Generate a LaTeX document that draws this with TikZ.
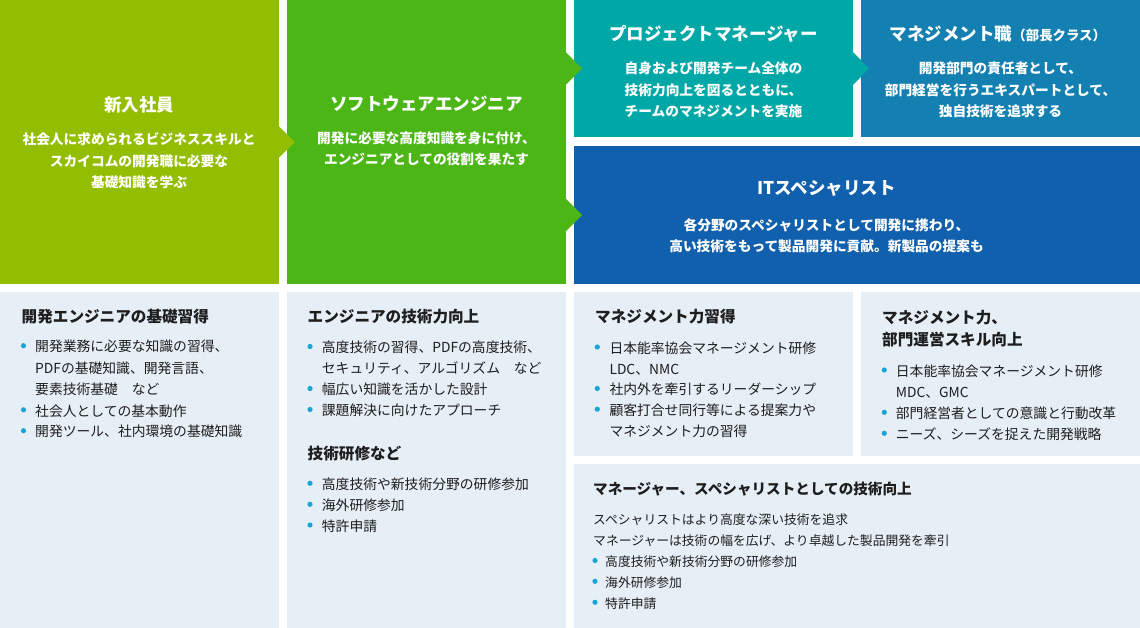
\documentclass[tikz,border=0pt]{standalone}
\usepackage{fontspec}
\setmainfont{Noto Sans CJK JP}
\usepackage{tikz}
\usetikzlibrary{calc}
\definecolor{newgreen}{HTML}{93BD00}
\definecolor{enggreen}{HTML}{4BB616}
\definecolor{pmteal}{HTML}{00A7A7}
\definecolor{mgblue}{HTML}{1380B1}
\definecolor{itblue}{HTML}{1160AD}
\definecolor{softbg}{HTML}{E6EEF6}
\definecolor{dotblue}{HTML}{1AA5D8}
\definecolor{inkgray}{HTML}{1E1E1E}

\begin{document}
\begin{tikzpicture}[x=1pt,y=-1pt,
  panel/.style={inner sep=0pt,outer sep=0pt,minimum width=279pt,minimum height=284pt},
  ptitle/.style={text=white,inner sep=0pt,font=\bfseries\fontsize{17.5}{20}\selectfont},
  pbody/.style={text=white,inner sep=0pt,align=center,font=\bfseries\fontsize{13.7}{21.3}\selectfont},
  ltitle/.style={text=inkgray,anchor=west,inner sep=0pt,text height=13.7pt,text depth=1.9pt,font=\bfseries\fontsize{15.6}{18}\selectfont},
  litem/.style={text=inkgray,anchor=west,inner sep=0pt,text height=12.1pt,text depth=1.7pt,font=\fontsize{13.8}{16}\selectfont},
  dot/.style={circle,fill=dotblue,inner sep=0pt,minimum size=5.2pt}]
\useasboundingbox[fill=white] (0,0) rectangle (1140,628);

% upper row: career stages
\node[panel,fill=newgreen] (newhire) at (139.5,142) {};
\node[panel,fill=enggreen] (engineer) at (426.5,142) {};
\node[panel,fill=pmteal,minimum height=137pt] (pm) at (713.5,68.5) {};
\node[panel,fill=mgblue,minimum height=137pt] (mgr) at (1000.5,68.5) {};
\node[panel,fill=itblue,minimum width=566pt,minimum height=138pt] (itsp) at (857,215) {};

% notches
\fill[newgreen] (newhire.east) ++(0,-15.5) -- ++(16,15.5) -- ++(-16,15.5) -- cycle;
\fill[enggreen] (engineer.east |- pm.west) ++(0,-16) -- ++(16,16) -- ++(-16,16) -- cycle;
\fill[enggreen] (engineer.east |- itsp.west) ++(0,-16) -- ++(16,16) -- ++(-16,16) -- cycle;
\fill[pmteal] (pm.east) ++(0,-16.5) -- ++(16,16.5) -- ++(-16,16.5) -- cycle;

\node[ptitle] (newhire-t) at (139,105) {新入社員};
\node[pbody] (newhire-b) at (139,161) {社会人に求められるビジネススキルと\\スカイコムの開発職に必要な\\基礎知識を学ぶ};
\node[ptitle] (engineer-t) at (426.5,103.5) {ソフトウェアエンジニア};
\node[pbody] (engineer-b) at (426.5,149) {開発に必要な高度知識を身に付け、\\エンジニアとしての役割を果たす};
\node[ptitle] (pm-t) at (713.5,33.5) {プロジェクトマネージャー};
\node[pbody] (pm-b) at (713.5,90) {自身および開発チーム全体の\\技術力向上を図るとともに、\\チームのマネジメントを実施};
\node[ptitle] (mgr-t) at (998,33.5) {マネジメント職{\fontsize{13.4}{15}\selectfont（部長クラス）}};
\node[pbody] (mgr-b) at (1000.5,90) {開発部門の責任者として、\\部門経営を行うエキスパートとして、\\独自技術を追求する};
\node[ptitle] (itsp-t) at (826.5,188.5) {ITスペシャリスト};
\node[pbody] (itsp-b) at (826.5,235.5) {各分野のスペシャリストとして開発に携わり、\\高い技術をもって製品開発に貢献。新製品の提案も};

% lower row: training contents
\node[panel,fill=softbg,minimum height=336pt] (boxa) at (139.5,460) {};
\node[panel,fill=softbg,minimum height=336pt] (boxb) at (426.5,460) {};
\node[panel,fill=softbg,minimum height=164pt] (boxc) at (713.5,374) {};
\node[panel,fill=softbg,minimum height=164pt] (boxd) at (1000.5,374) {};
\node[panel,fill=softbg,minimum width=566pt,minimum height=164pt] (boxe) at (857,546) {};

\node[ltitle] (boxa-t) at (21.5,316.7) {開発エンジニアの基礎習得};
\foreach \yy/\b/\txt [count=\k] in {346.7/1/{開発業務に必要な知識の習得、},368.3/0/{PDFの基礎知識、開発言語、},
    389.5/0/{要素技術基礎　など},410.8/1/{社会人としての基本動作},431.7/1/{開発ツール、社内環境の基礎知識}}{
    \ifnum\b=1 \node[dot] (boxa-d\k) at (23.5,\yy-1) {};\fi
    \node[litem] (boxa-\k) at (35,\yy) {\txt};
}

\node[ltitle] (boxb-t) at (307.5,316.7) {エンジニアの技術力向上};
\foreach \yy/\b/\txt [count=\k] in {347.5/1/{高度技術の習得、PDFの高度技術、},368.3/0/{セキュリティ、アルゴリズム　など},
    389.5/1/{幅広い知識を活かした設計},410.5/1/{課題解決に向けたアプローチ}}{
    \ifnum\b=1 \node[dot] (boxb-d\k) at (310,\yy-1) {};\fi
    \node[litem] (boxb-\k) at (321.7,\yy) {\txt};
}
\node[ltitle] (boxb-t2) at (307.5,453.3) {技術研修など};
\foreach \yy/\txt [count=\k] in {484.3/{高度技術や新技術分野の研修参加},505.3/{海外研修参加},526/{特許申請}}{
    \node[dot] (boxb-e\k) at (310,\yy-1) {};
    \node[litem] (boxb-s\k) at (321.7,\yy) {\txt};
}

\node[ltitle] (boxc-t) at (595,316.7) {マネジメント力習得};
\foreach \yy/\b/\txt [count=\k] in {348/1/{日本能率協会マネージメント研修},369/0/{LDC、NMC},
    389.5/1/{社内外を牽引するリーダーシップ},410.2/1/{顧客打合せ同行等による提案力や},431/0/{マネジメント力の習得}}{
    \ifnum\b=1 \node[dot] (boxc-d\k) at (597.3,\yy-1) {};\fi
    \node[litem] (boxc-\k) at (609.3,\yy) {\txt};
}

\node[ltitle] (boxd-t) at (882,317.3) {マネジメント力、};
\node[ltitle] (boxd-t2) at (882,340) {部門運営スキル向上};
\foreach \yy/\b/\txt [count=\k] in {371/1/{日本能率協会マネージメント研修},392.3/0/{MDC、GMC},
    413.3/1/{部門経営者としての意識と行動改革},434.3/1/{ニーズ、シーズを捉えた開発戦略}}{
    \ifnum\b=1 \node[dot] (boxd-d\k) at (884.3,\yy-1) {};\fi
    \node[litem] (boxd-\k) at (895.7,\yy) {\txt};
}

\node[ltitle,font=\bfseries\fontsize{14.6}{18}\selectfont] (boxe-t) at (593,488.3) {マネージャー、スペシャリストとしての技術向上};
\node[litem,font=\fontsize{12.8}{16}\selectfont] (boxe-l1) at (593,519.3) {スペシャリストはより高度な深い技術を追求};
\node[litem,font=\fontsize{12.8}{16}\selectfont] (boxe-l2) at (593,540) {マネージャーは技術の幅を広げ、より卓越した製品開発を牽引};
\foreach \yy/\txt [count=\k] in {561.5/{高度技術や新技術分野の研修参加},582.3/{海外研修参加},603.3/{特許申請}}{
    \node[dot] (boxe-d\k) at (595,\yy-1) {};
    \node[litem,font=\fontsize{12.8}{16}\selectfont] (boxe-\k) at (605,\yy) {\txt};
}
\end{tikzpicture}
\end{document}
